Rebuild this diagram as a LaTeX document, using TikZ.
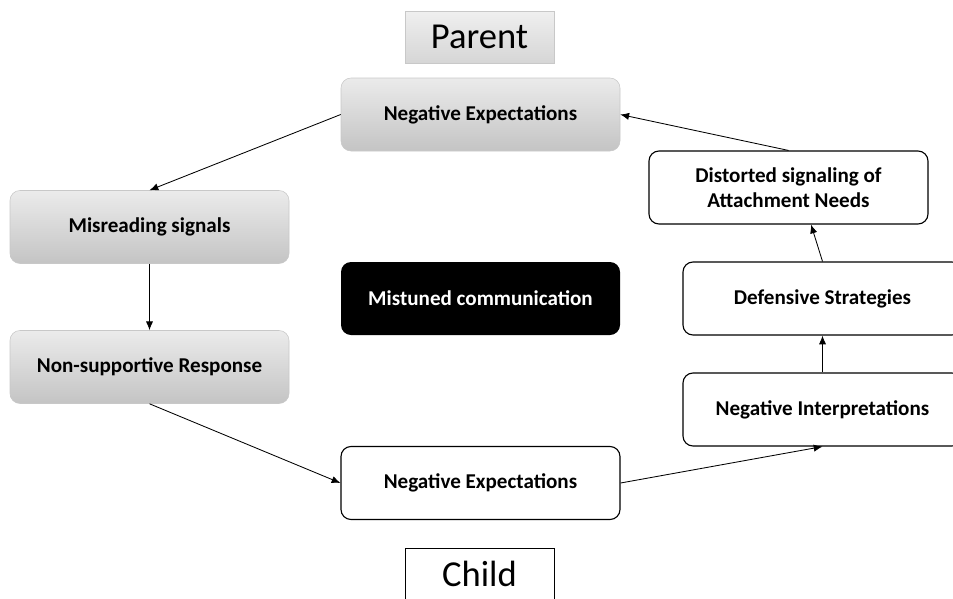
\documentclass[tikz,border=0pt]{standalone}
\usepackage{fontspec}
\setmainfont{Carlito}
\usepackage{xcolor}
\usepackage{tikz}
\usetikzlibrary{arrows.meta}

\definecolor{boxtop}{HTML}{EBEBEB}
\definecolor{boxbot}{HTML}{C4C4C4}
\definecolor{boxline}{HTML}{C8C8C8}

\tikzset{
  graybox/.style={rounded corners=0.25cm, draw=boxline, thin, top color=boxtop, bottom color=boxbot,
    minimum width=6.975cm, minimum height=1.825cm, align=center, font=\fontsize{15}{18}\selectfont\bfseries},
  whitebox/.style={rounded corners=0.25cm, draw=black, line width=0.8pt, fill=white,
    minimum width=6.975cm, minimum height=1.825cm, align=center, font=\fontsize{15}{18}\selectfont\bfseries},
  blackbox/.style={rounded corners=0.25cm, fill=black, text=white,
    minimum width=6.975cm, minimum height=1.825cm, align=center, font=\fontsize{15}{18}\selectfont\bfseries},
  titlebox/.style={minimum width=3.725cm, minimum height=1.3cm, font=\fontsize{26}{30}\selectfont},
  link/.style={-{Latex[length=2.2mm,width=1.8mm]}, semithick}
}

\begin{document}
\begin{tikzpicture}
\useasboundingbox (0,0) rectangle (23.825,-14.95);
% the two sides
\node[titlebox, draw=boxline, top color=boxtop!80, bottom color=boxbot!70] (Parent) at (11.9875,-00.9250) {Parent};
\node[titlebox, draw=black, semithick, fill=white] (Child) at (11.9875,-14.3500) {Child};
% parent loop
\node[graybox] (TopExpect) at (12.0125,-02.8625) {Negative Expectations};
\node[graybox] (Misread) at (03.7375,-05.6750) {Misreading signals};
\node[graybox] (NonSupport) at (03.7375,-09.1750) {Non-supportive Response};
\node[blackbox] (Mistuned) at (12.0125,-07.4625) {Mistuned communication};
% child loop
\node[whitebox] (BotExpect) at (12.0125,-12.0750) {Negative Expectations};
\node[whitebox] (Interpret) at (20.5625,-10.2375) {Negative Interpretations};
\node[whitebox] (Defense) at (20.5625,-07.4625) {Defensive Strategies};
\node[whitebox] (Distort) at (19.7125,-04.6875) {Distorted signaling of\\Attachment Needs};
\draw[link] (TopExpect.west) -- (Misread.north);
\draw[link] (Misread.south) -- (NonSupport.north);
\draw[link] (NonSupport.south) -- (BotExpect.west);
\draw[link] (BotExpect.east) -- (Interpret.south);
\draw[link] (Interpret.north) -- (Defense.south);
\draw[link] (Defense.north) -- ([xshift=0.5625cm]Distort.south);
\draw[link] (Distort.north) -- (TopExpect.east);
\end{tikzpicture}
\end{document}
